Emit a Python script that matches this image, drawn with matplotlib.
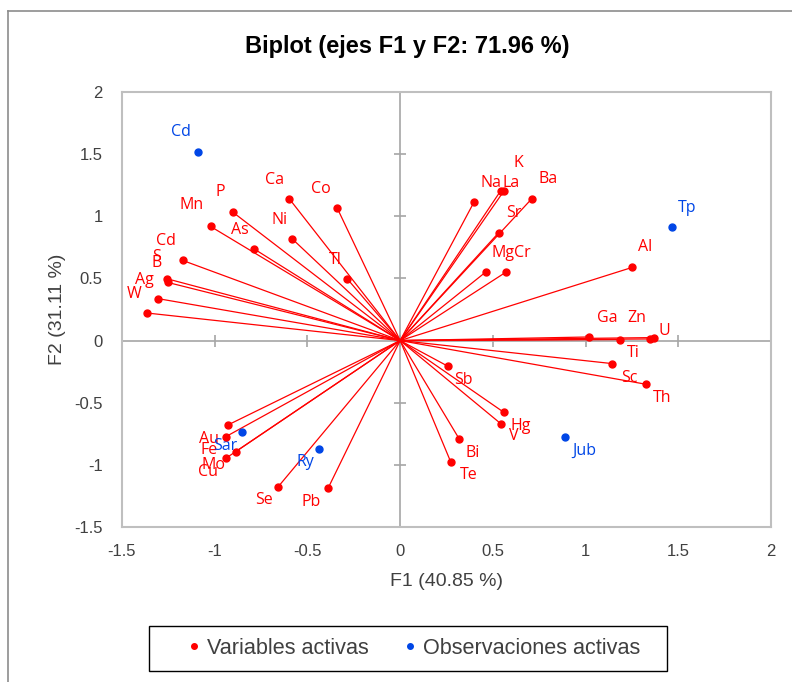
import numpy as np
import matplotlib
matplotlib.use("Agg")
import matplotlib.pyplot as plt
from matplotlib.lines import Line2D
from matplotlib.patches import Rectangle

RED = "#FF0000"
BLUE = "#0046E6"
GRAY = "#A6A6A6"
NARROW = ["Liberation Sans", "DejaVu Sans"]

# ── DATA ──────────────────────────────────────────────────────────────────────
var_names = ["W", "Ag", "S", "B", "Cd", "Mn", "P", "As", "Ca", "Ni", "Co", "Tl",
             "Na", "K", "La", "Ba", "Sr", "Mg", "Cr", "Al",
             "Ga", "Zn", "U", "Ti", "Sc", "Th",
             "Sb", "Hg", "V", "Bi", "Te", "Se", "Pb", "Au", "Fe", "Mo", "Cu"]
var_f1 = [-1.367, -1.304, -1.259, -1.254, -1.173, -1.022, -0.903, -0.786, -0.599, -0.581, -0.340, -0.286,
          0.399, 0.561, 0.543, 0.711, 0.531, 0.462, 0.572, 1.252,
          1.020, 1.186, 1.367, 1.349, 1.142, 1.324,
          0.257, 0.558, 0.543, 0.318, 0.273, -0.657, -0.387, -0.930, -0.941, -0.887, -0.941]
var_f2 = [0.222, 0.337, 0.498, 0.468, 0.645, 0.918, 1.034, 0.736, 1.143, 0.817, 1.068, 0.498,
          1.116, 1.207, 1.207, 1.143, 0.867, 0.552, 0.552, 0.589,
          0.029, 0.008, 0.024, 0.013, -0.185, -0.351,
          -0.206, -0.576, -0.669, -0.790, -0.977, -1.175, -1.183, -0.680, -0.774, -0.894, -0.948]

obs_names = ["Cd", "Tp", "Jub", "Sar", "Ry"]
obs_f1 = [-1.090, 1.468, 0.887, -0.854, -0.435]
obs_f2 = [1.518, 0.910, -0.774, -0.733, -0.876]

# label offsets in pixels (dx, dy)
var_off = {"W": (-13, 19), "Ag": (-14, 19), "S": (-10, 22), "B": (-11, 19), "Cd": (-17, 19),
           "Mn": (-19, 21), "P": (-12, 20), "As": (-15, 19), "Ca": (-15, 19), "Ni": (-13, 19),
           "Co": (-16, 19), "Tl": (-12, 19), "Na": (17, 19), "K": (14, 28), "La": (10, 8),
           "Ba": (16, 20), "Sr": (15, 20), "Mg": (17, 19), "Cr": (16, 19), "Al": (13, 20),
           "Ga": (18, 19), "Zn": (17, 22), "U": (11, 7), "Ti": (-17, -14), "Sc": (17, -14),
           "Th": (16, -14), "Sb": (16, -14), "Hg": (17, -14), "V": (13, -12), "Bi": (14, -14),
           "Te": (18, -13), "Se": (-14, -13), "Pb": (-17, -14), "Au": (-19, -14),
           "Fe": (-17, -13), "Mo": (-22, -13), "Cu": (-18, -14)}
obs_off = {"Cd": (-17, 20), "Tp": (15, 19), "Jub": (20, -14), "Sar": (-17, -14), "Ry": (-14, -13)}

# ── PLOT ──────────────────────────────────────────────────────────────────────
fig = plt.figure(figsize=(7.92, 6.82), dpi=100)
ax = fig.add_axes([122/792, 1-527/682, 649/792, 435/682])

for x, y in zip(var_f1, var_f2):
    ax.plot([0, x], [0, y], color=RED, lw=0.9, zorder=3)
ax.plot(var_f1, var_f2, "o", color=RED, ms=5, zorder=4)
ax.plot(obs_f1, obs_f2, "o", color=BLUE, ms=5, zorder=4)

lab_font = dict(family=["Open Sans", "DejaVu Sans"], fontsize=11.5, ha="center", va="center")
for n, x, y in zip(var_names, var_f1, var_f2):
    ax.annotate(n, (x, y), xytext=var_off[n], textcoords="offset pixels", color=RED, **lab_font)
for n, x, y in zip(obs_names, obs_f1, obs_f2):
    ax.annotate(n, (x, y), xytext=obs_off[n], textcoords="offset pixels", color=BLUE, **lab_font)

ax.set_xlim(-1.5, 2)
ax.set_ylim(-1.5, 2)
ax.axhline(0, color=GRAY, lw=1.2, zorder=1)
ax.axvline(0, color=GRAY, lw=1.2, zorder=1)
ticks = np.arange(-1.5, 2.01, 0.5)
ax.plot(np.zeros_like(ticks), ticks, ls="none", marker="_", ms=9, mew=1.2, color=GRAY, zorder=1, clip_on=False)
ax.plot(ticks, np.zeros_like(ticks), ls="none", marker="|", ms=9, mew=1.2, color=GRAY, zorder=1, clip_on=False)

for s in ax.spines.values():
    s.set_color("#BFBFBF")
    s.set_linewidth(1.5)
ax.set_xticks(ticks)
ax.set_yticks(ticks)
ax.set_xticklabels(["-1.5", "-1", "-0.5", "0", "0.5", "1", "1.5", "2"])
ax.set_yticklabels(["-1.5", "-1", "-0.5", "0", "0.5", "1", "1.5", "2"])
ax.tick_params(axis="x", length=0, labelsize=12, colors="#404040", pad=12)
ax.tick_params(axis="y", length=0, labelsize=12, colors="#404040", pad=14)
for t in ax.get_xticklabels() + ax.get_yticklabels():
    t.set_family(NARROW)
ax.set_xlabel("F1 (40.85 %)", fontsize=14, color="#404040", labelpad=10, family=NARROW)
ax.set_ylabel("F2 (31.11 %)", fontsize=14, color="#404040", labelpad=6, family=NARROW)

fig.text(407/792, 1-47/682, "Biplot (ejes F1 y F2: 71.96 %)", ha="center", va="center",
         fontsize=17, fontweight="bold", family=NARROW)

handles = [Line2D([], [], ls="none", marker="o", ms=4, color=RED, label="Variables activas"),
           Line2D([], [], ls="none", marker="o", ms=4, color=BLUE, label="Observaciones activas")]
leg = fig.legend(handles=handles, loc="center", bbox_to_anchor=(414/792, 1-648/682), ncol=2,
                 frameon=False, handletextpad=0.3, handlelength=0.6,
                 columnspacing=1.6, prop={"family": NARROW, "size": 15.6})
for t in leg.get_texts():
    t.set_color("#404040")
fig.add_artist(Rectangle((149/792, 1-671/682), 518/792, 45/682, transform=fig.transFigure,
                         fill=False, edgecolor="black", lw=1.0))

# outer chart border (top and left visible)
fig.add_artist(Line2D([8/792, 8/792], [0, 1-11/682], transform=fig.transFigure, color="#8C8C8C", lw=1.2))
fig.add_artist(Line2D([8/792, 1], [1-11/682, 1-11/682], transform=fig.transFigure, color="#8C8C8C", lw=1.2))

fig.savefig("out.png", dpi=100)
